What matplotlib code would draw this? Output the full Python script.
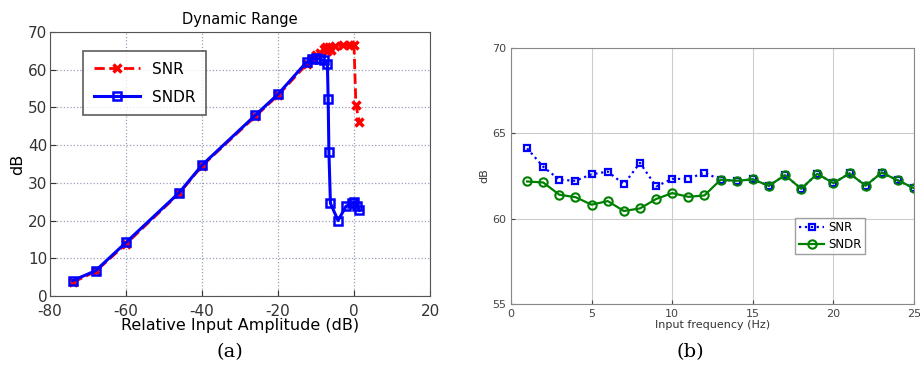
import matplotlib
matplotlib.use('Agg')
import matplotlib.pyplot as plt

plt.rcParams['axes.unicode_minus'] = False

# (a) dynamic range
amp_sndr = [-74, -68, -60, -46, -40, -26, -20, -12.5, -11, -10, -9, -8, -7,
            -6.8, -6.6, -6.2, -4.2, -2.1, -0.5, 0.0, 0.9, 1.4]
sndr_a = [4.1, 6.7, 14.2, 27.4, 34.7, 47.9, 53.5, 62.0, 62.8, 63.0, 62.8, 62.5, 61.5,
          52.3, 38.1, 24.6, 20.0, 23.8, 24.6, 24.9, 23.8, 22.7]
amp_snr = [-74, -68, -60, -46, -40, -26, -20, -12.5, -11, -10, -9, -8, -7.5,
           -7, -6.5, -6, -5, -3, -1, 0.0, 0.5, 1.4]
snr_a = [3.6, 6.5, 13.8, 27.2, 34.5, 47.6, 53.2, 61.4, 62.8, 64.0, 64.5, 65.5, 66.0,
         65.0, 66.0, 65.2, 66.3, 66.5, 66.6, 66.5, 50.7, 46.1]

# (b) versus input frequency
freq = list(range(1, 26))
snr_b = [64.12, 63.04, 62.28, 62.22, 62.6, 62.76, 62.02, 63.27, 61.89, 62.33, 62.33, 62.7,
         62.28, 62.22, 62.3, 61.93, 62.55, 61.75, 62.63, 62.08, 62.65, 61.93, 62.7, 62.24, 61.79]
sndr_b = [62.18, 62.12, 61.4, 61.26, 60.82, 61.03, 60.45, 60.6, 61.15, 61.5, 61.28, 61.36,
          62.28, 62.22, 62.3, 61.93, 62.55, 61.75, 62.63, 62.08, 62.65, 61.93, 62.7, 62.24, 61.79]

fig = plt.figure(figsize=(9.22, 3.67), dpi=100)

# ---- left panel
ax1 = fig.add_axes([50/922, 71/367, 380/922, 264/367])
ax1.plot(amp_snr, snr_a, color='red', linestyle='--', linewidth=2, marker='x',
         markersize=6, markeredgewidth=2.5, label='SNR')
ax1.plot(amp_sndr, sndr_a, color='blue', linestyle='-', linewidth=2.2, marker='s',
         markersize=5.5, markerfacecolor='none', markeredgewidth=1.8, label='SNDR')
ax1.set_xlim(-80, 20)
ax1.set_ylim(0, 70)
ax1.set_xticks(range(-80, 21, 20))
ax1.set_yticks(range(0, 71, 10))
ax1.grid(True, linestyle=':', color='#9aa0b8', linewidth=0.9)
ax1.tick_params(labelsize=11, direction='in', length=4, colors='#333333')
ax1.tick_params(axis='x', pad=6)
ax1.tick_params(axis='y', pad=2)
for s in ax1.spines.values():
    s.set_color('#555555')
ax1.set_xlabel('Relative Input Amplitude (dB)', fontsize=11.5, labelpad=-1)
ax1.set_ylabel('dB', fontsize=11.5, labelpad=2)
ax1.set_title('Dynamic Range', fontsize=10.5, pad=6)
leg1 = ax1.legend(loc='upper left', bbox_to_anchor=(0.087, 0.928), fontsize=11,
                  fancybox=False, edgecolor='#333333', handlelength=3.0,
                  borderpad=0.7, labelspacing=0.85, borderaxespad=0)
leg1.get_frame().set_linewidth(1.2)

# ---- right panel
ax2 = fig.add_axes([511/922, 63/367, 403/922, 256/367])
ax2.plot(freq, snr_b, color='blue', linestyle=':', linewidth=1.6, marker='s',
         markersize=5, markerfacecolor='none', markeredgewidth=1.6, label='SNR')
ax2.plot(freq, sndr_b, color='green', linestyle='-', linewidth=1.6, marker='o',
         markersize=6, markerfacecolor='none', markeredgewidth=1.5, label='SNDR')
ax2.set_xlim(0, 25)
ax2.set_ylim(55, 70)
ax2.set_xticks(range(0, 26, 5))
ax2.set_yticks(range(55, 71, 5))
ax2.grid(True, linestyle='-', color='#cccccc', linewidth=0.8)
ax2.tick_params(labelsize=8, direction='in', length=3, colors='#444444')
for s in ax2.spines.values():
    s.set_color('#888888')
ax2.set_xlabel('Input frequency (Hz)', fontsize=8, color='#333333', labelpad=1)
ax2.set_ylabel('dB', fontsize=8, color='#333333', labelpad=2)
leg2 = ax2.legend(loc='upper left', bbox_to_anchor=(0.69, 0.36), fontsize=8.5,
                  fancybox=False, edgecolor='#888888', handlelength=2.2,
                  borderpad=0.3, labelspacing=0.3, handletextpad=0.3)

# panel letters
fig.text(230/922, 1 - 352/367, '(a)', fontsize=14, family='DejaVu Serif',
         ha='center', va='center')
fig.text(690/922, 1 - 352/367, '(b)', fontsize=14, family='DejaVu Serif',
         ha='center', va='center')

fig.savefig('out.png', dpi=100)
